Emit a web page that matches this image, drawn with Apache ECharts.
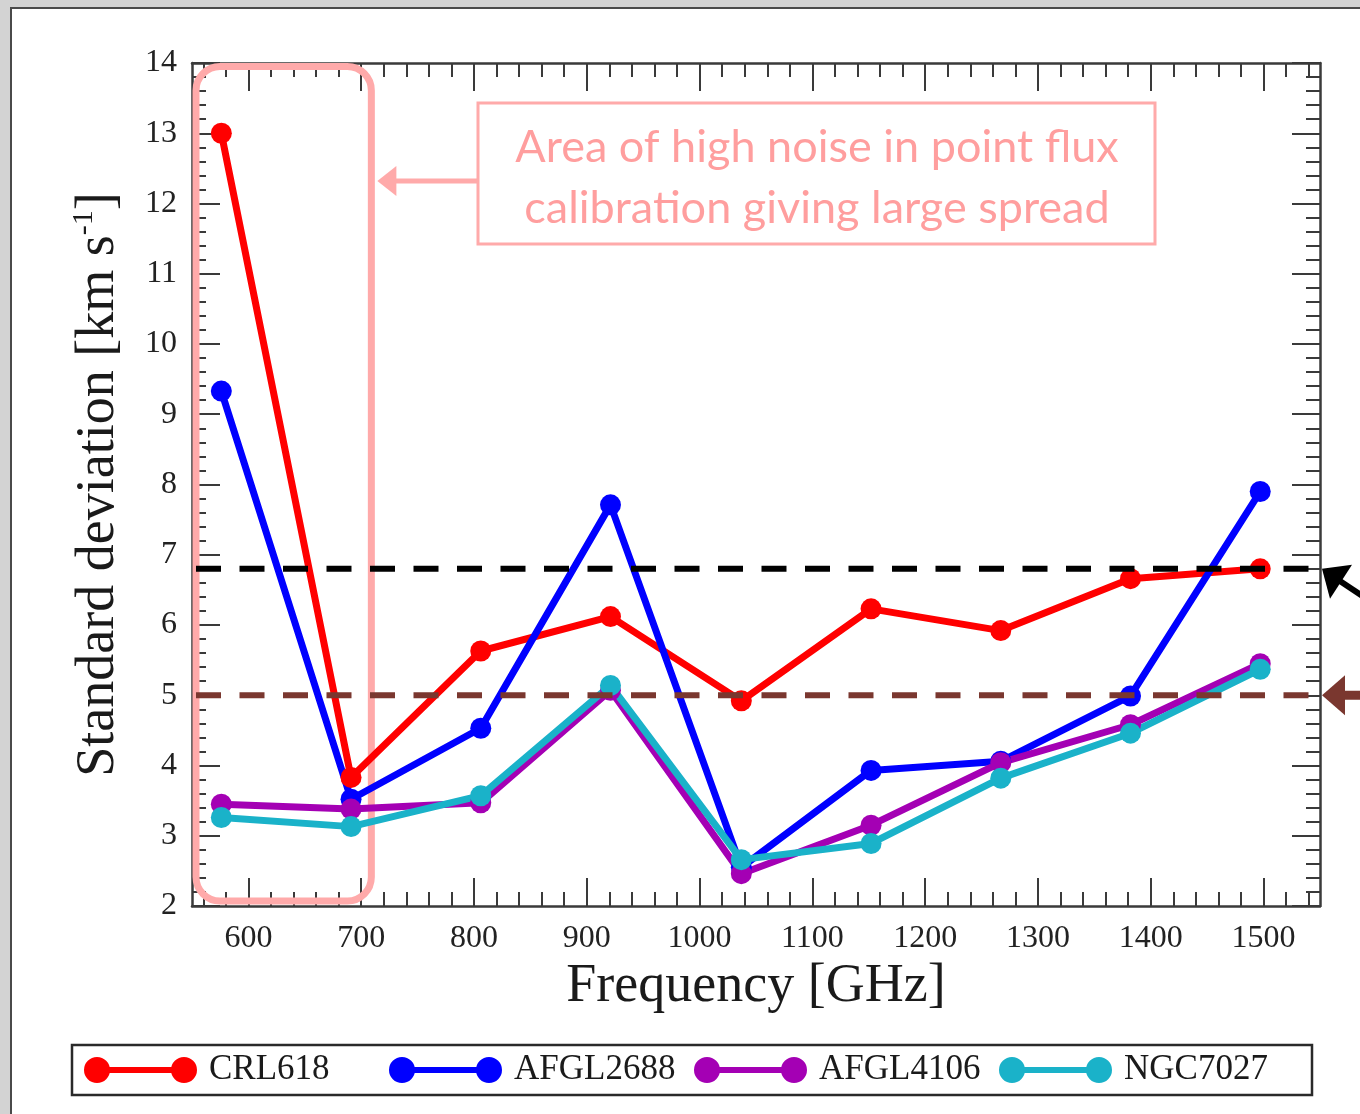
<!DOCTYPE html>
<html>
<head>
<meta charset="utf-8">
<script src="https://cdn.jsdelivr.net/npm/echarts@6/dist/echarts.min.js"></script>
<style>
  html, body { margin: 0; padding: 0; width: 1360px; height: 1114px; overflow: hidden; background: #d3d3d3; }
  #panel { position: absolute; left: 10px; top: 7px; width: 1380px; height: 1130px; background: #fff;
           border-left: 2px solid #4a4a4a; border-top: 2px solid #4a4a4a; }
  #chart { position: absolute; left: 0; top: 0; width: 1360px; height: 1114px; }
</style>
</head>
<body>
<div id="panel"></div>
<div id="chart"></div>
<script>
// Frequencies of the nine bands (GHz)
const freqGHz = [576, 691, 806, 921, 1037, 1152, 1267, 1382, 1497];

// Standard deviation of the line velocity per source (km/s)
const crl618   = [13.0, 3.83, 5.63, 6.12, 4.92, 6.23, 5.92, 6.66, 6.80];
const afgl2688 = [9.33, 3.52, 4.53, 7.71, 2.55, 3.93, 4.06, 4.99, 7.90];
const afgl4106 = [3.45, 3.38, 3.47, 5.07, 2.46, 3.15, 4.04, 4.58, 5.45];
const ngc7027  = [3.26, 3.13, 3.57, 5.14, 2.66, 2.89, 3.82, 4.46, 5.37];

// Reference levels (km/s)
const levelUpper = 6.8;
const levelLower = 5.0;

// Axis ticks
const xMajorTicks = [600, 700, 800, 900, 1000, 1100, 1200, 1300, 1400, 1500];
const xMinorTicks = [];
for (let v = 560; v <= 1540; v += 20) { if (v % 100 !== 0) xMinorTicks.push(v); }

const serif = 'Liberation Serif';
const axisColor = '#3a3a3a';

const chart = echarts.init(document.getElementById('chart'), null, { renderer: 'canvas' });

function pairs(ys) { return freqGHz.map((f, i) => [f, ys[i]]); }

function dataSeries(name, ys, color) {
  return {
    name: name, type: 'line', data: pairs(ys),
    symbol: 'circle', symbolSize: 21,
    lineStyle: { color: color, width: 7 },
    itemStyle: { color: color },
    emphasis: { disabled: true }
  };
}

function levelSeries(name, y, color) {
  return {
    name: name, type: 'line', data: [[550, y], [1550, y]],
    symbol: 'none', silent: true, z: 5,
    lineStyle: { color: color, width: 6, type: [25, 18.5], dashOffset: 39.5 },
    emphasis: { disabled: true }
  };
}

const xBase = { type: 'value', min: 550, max: 1550, gridIndex: 0, splitLine: { show: false } };

const legendIcon = 'path://M0,13A13,13,0,1,1,26,13A13,13,0,1,1,0,13Z' +
  'M87,13A13,13,0,1,1,113,13A13,13,0,1,1,87,13Z' +
  'M13,10L100,10L100,16L13,16Z';

const option = {
  animation: false,
  backgroundColor: 'transparent',
  grid: { left: 192, right: 40, top: 63, bottom: 208, outerBoundsMode: 'none', containLabel: false },
  xAxis: [
    Object.assign({}, xBase, {
      position: 'bottom',
      axisLine: { show: true, lineStyle: { color: axisColor, width: 2.5 } },
      axisTick: { show: true, inside: true, length: 28, customValues: xMajorTicks, lineStyle: { color: axisColor, width: 2 } },
      axisLabel: { show: true, customValues: xMajorTicks, margin: 17, fontFamily: serif, fontSize: 32, color: '#222',
                   formatter: v => String(v) },
      name: 'Frequency [GHz]', nameLocation: 'middle', nameGap: 52,
      nameTextStyle: { fontFamily: serif, fontSize: 54, color: '#1a1a1a' }
    }),
    Object.assign({}, xBase, {
      position: 'bottom',
      axisLine: { show: false },
      axisTick: { show: true, inside: true, length: 14, customValues: xMinorTicks, lineStyle: { color: axisColor, width: 2 } },
      axisLabel: { show: false }
    }),
    Object.assign({}, xBase, {
      position: 'top',
      axisLine: { show: true, lineStyle: { color: axisColor, width: 2.5 } },
      axisTick: { show: true, inside: true, length: 28, customValues: xMajorTicks, lineStyle: { color: axisColor, width: 2 } },
      axisLabel: { show: false }
    }),
    Object.assign({}, xBase, {
      position: 'top',
      axisLine: { show: false },
      axisTick: { show: true, inside: true, length: 14, customValues: xMinorTicks, lineStyle: { color: axisColor, width: 2 } },
      axisLabel: { show: false }
    })
  ],
  yAxis: [
    {
      type: 'value', min: 2, max: 14, interval: 1, position: 'left',
      splitLine: { show: false },
      axisLine: { show: true, lineStyle: { color: axisColor, width: 2.5 } },
      axisTick: { show: true, inside: true, length: 28, lineStyle: { color: axisColor, width: 2 } },
      minorTick: { show: true, splitNumber: 5, length: 14, lineStyle: { color: axisColor, width: 2 } },
      minorSplitLine: { show: false },
      axisLabel: { margin: 15, fontFamily: serif, fontSize: 32, color: '#222' },
      name: '{n|Standard deviation [km s}{sup|-1}{n|]}',
      nameLocation: 'middle', nameGap: 63,
      nameTextStyle: {
        fontFamily: serif, fontSize: 54, color: '#1a1a1a',
        rich: {
          n: { fontFamily: serif, fontSize: 54, color: '#1a1a1a', lineHeight: 60 },
          sup: { fontFamily: serif, fontSize: 30, color: '#1a1a1a', verticalAlign: 'top' }
        }
      }
    },
    {
      type: 'value', min: 2, max: 14, interval: 1, position: 'right',
      splitLine: { show: false },
      axisLine: { show: true, lineStyle: { color: axisColor, width: 2.5 } },
      axisTick: { show: true, inside: true, length: 28, lineStyle: { color: axisColor, width: 2 } },
      minorTick: { show: true, splitNumber: 5, length: 14, lineStyle: { color: axisColor, width: 2 } },
      minorSplitLine: { show: false },
      axisLabel: { show: false }
    }
  ],
  legend: {
    show: true, left: 72, top: 1045, orient: 'horizontal',
    padding: [6, 25, 6, 12],
    borderColor: '#2a2a2a', borderWidth: 2.5, backgroundColor: '#fff',
    itemWidth: 113, itemHeight: 26, itemGap: 17,
    selectedMode: false,
    itemStyle: { borderWidth: 0 },
    textStyle: { fontFamily: serif, fontSize: 35, color: '#1a1a1a', width: 163, lineHeight: 38, padding: [0, 0, 0, 7] },
    data: [
      { name: 'CRL618', icon: legendIcon },
      { name: 'AFGL2688', icon: legendIcon },
      { name: 'AFGL4106', icon: legendIcon },
      { name: 'NGC7027', icon: legendIcon }
    ]
  },
  series: [
    dataSeries('CRL618', crl618, '#ff0000'),
    dataSeries('AFGL2688', afgl2688, '#0000ff'),
    dataSeries('AFGL4106', afgl4106, '#a400b4'),
    dataSeries('NGC7027', ngc7027, '#1ab2c9'),
    levelSeries('upper level', levelUpper, '#000000'),
    levelSeries('lower level', levelLower, '#7a372f')
  ]
};

chart.setOption(option);

// Annotations placed from the axis scales
const px = (x, y) => chart.convertToPixel({ xAxisIndex: 0, yAxisIndex: 0 }, [x, y]);
const frameL = px(550, 2)[0] + 4;
const frameR = px(709, 2)[0];
const frameT = px(550, 14)[1] + 3.5;
const frameB = px(550, 2)[1] - 5;
const yUp = px(1550, levelUpper)[1];
const yLo = px(1550, levelLower)[1];
const plotR = px(1550, 2)[0];
const pink = '#ffaaaa';
const noteY = 181;

chart.setOption({
  graphic: [
    { type: 'rect', z: 1, silent: true,
      shape: { x: frameL, y: frameT, width: frameR - frameL, height: frameB - frameT, r: 24 },
      style: { fill: 'none', stroke: pink, lineWidth: 7 } },
    { type: 'rect', z: 10, silent: true,
      shape: { x: 478, y: 103, width: 677, height: 141 },
      style: { fill: '#ffffff', stroke: pink, lineWidth: 3 } },
    { type: 'text', z: 11, silent: true,
      style: { x: 817, y: 178, text: 'Area of high noise in point flux\ncalibration giving large spread',
               align: 'center', verticalAlign: 'middle', font: '45px Lato', fill: '#ff9e9e', lineHeight: 61 } },
    { type: 'line', z: 10, silent: true,
      shape: { x1: 478, y1: noteY, x2: frameR + 22, y2: noteY },
      style: { stroke: pink, lineWidth: 5 } },
    { type: 'polygon', z: 10, silent: true,
      shape: { points: [[frameR + 6, noteY], [frameR + 25, noteY - 15], [frameR + 25, noteY + 15]] },
      style: { fill: pink } },
    { type: 'polygon', z: 10, silent: true,
      shape: { points: [[plotR + 2, yUp], [plotR + 32, yUp - 4], [plotR + 10, yUp + 30]] },
      style: { fill: '#000' } },
    { type: 'line', z: 10, silent: true,
      shape: { x1: plotR + 18, y1: yUp + 11, x2: plotR + 80, y2: yUp + 52 },
      style: { stroke: '#000', lineWidth: 6 } },
    { type: 'polygon', z: 10, silent: true,
      shape: { points: [[plotR + 2, yLo], [plotR + 25, yLo - 20], [plotR + 25, yLo + 20]] },
      style: { fill: '#7a372f' } },
    { type: 'rect', z: 10, silent: true,
      shape: { x: plotR + 22, y: yLo - 4.5, width: 30, height: 9 },
      style: { fill: '#7a372f' } }
  ]
});
</script>
</body>
</html>
